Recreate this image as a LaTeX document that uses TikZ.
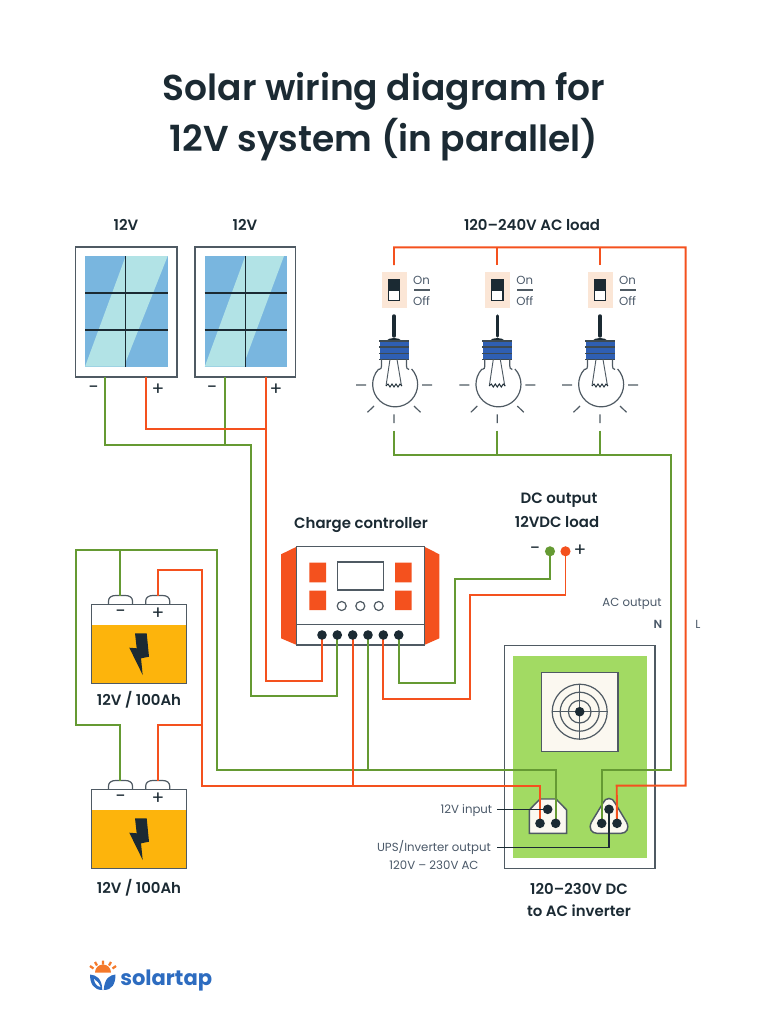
\documentclass[tikz,border=0pt]{standalone}
\usepackage{fontspec}
\setmainfont{Poppins}
\newfontfamily\semi{Poppins SemiBold}
\definecolor{wred}{HTML}{F4511E}
\definecolor{wgreen}{HTML}{659A33}
\definecolor{ink}{HTML}{1B2A33}
\definecolor{edge}{HTML}{4F5A63}
\definecolor{soft}{HTML}{4A5868}
\definecolor{pdark}{HTML}{79B6DF}
\definecolor{plight}{HTML}{B2E3E6}
\definecolor{amber}{HTML}{FDB40C}
\definecolor{capblue}{HTML}{2F5FB3}
\definecolor{peach}{HTML}{FBE6D6}
\definecolor{invgreen}{HTML}{A2DA63}
\definecolor{cream}{HTML}{FBF8F0}
\definecolor{logoblue}{HTML}{2D6CC0}
\definecolor{logoorange}{HTML}{F4792B}
\pgfdeclarelayer{shapes}
\pgfdeclarelayer{wires}
\pgfsetlayers{shapes,wires,main}
\tikzset{
  x=0.75pt,y=-0.75pt,
  px/.style n args={2}{minimum width=#1*0.75pt,minimum height=#2*0.75pt,inner sep=0pt,outer sep=0pt},
  frame/.style={draw=edge,line width=1.1pt,fill=white,rectangle},
  rw/.style={draw=wred,line width=1.45pt,line join=miter},
  gw/.style={draw=wgreen,line width=1.45pt,line join=miter},
  pin/.style={circle,fill=ink,draw=none,minimum size=7.2pt,inner sep=0pt,outer sep=0pt},
  head/.style={font=\fontsize{11.2pt}{14pt}\semi,text=ink,inner sep=0pt,align=center},
  small/.style={font=\fontsize{8.8pt}{11pt}\selectfont,text=soft,inner sep=0pt,align=center},
  sign/.style={font=\fontsize{14pt}{14pt}\selectfont,text=ink,inner sep=0pt},
  lamp/.pic={
    \fill[peach] (-12.5,272.3) rectangle (12.5,308);
    \draw[ink,line width=.9pt,fill=white] (-5.7,279.5) rectangle (5.7,300.7);
    \fill[ink] (-5.7,279.5) rectangle (5.7,290.7);
    \draw[edge,line width=.9pt] (20,290) -- (36,290);
    \node[small] (-on) at (27.5,280) {On};
    \node[small] (-off) at (27.5,301) {Off};
    \draw[ink,line width=2.6pt,line cap=round] (0,316) -- (0,336);
    \fill[ink] (-8,341) .. controls (-5,337) and (5,337) .. (8,341) -- cycle;
    \fill[capblue] (-14.5,341) rectangle (14.5,359.3);
    \foreach \yy in {341,347,353.5,359.3}{\draw[ink!85,line width=.9pt] (-15,\yy) -- (15,\yy);}
    \draw[edge,line width=.9pt] (-12.5,359.3) -- (-12.5,366) .. controls (-12.5,368) and (-13,369) .. (-15,369.5);
    \draw[edge,line width=.9pt] (12.5,359.3) -- (12.5,366) .. controls (12.5,368) and (13,369) .. (15,369.5);
    \draw[edge,line width=.9pt] (-15.3,369) arc[start angle=-137,end angle=-403,radius=22.5] ;
    \draw[edge,line width=.7pt] (-4,359.3) -- (-8,386);
    \draw[edge,line width=.7pt] (3,359.3) -- (7.5,386);
    \draw[ink,line width=.7pt] (-8,386) -- (-6,384) -- (-4,387) -- (-2,384) -- (0,387) -- (2,384) -- (4,387) -- (6,384) -- (8,386);
    \draw[edge,line width=.9pt] (-38,385) -- (-28,385) (28,385) -- (38,385) (-26.5,412.3) -- (-20,406) (20,406) -- (26.5,412.3) (0,414.3) -- (0,423);
  },
  cell/.pic={
    \foreach \tx in {120.5,157.7}{
      \draw[edge,line width=.9pt,fill=white] (\tx-12,604.3) -- (\tx-12,601) .. controls (\tx-12,597.5) and (\tx-9,595.5) .. (\tx-5,595.5) -- (\tx+5,595.5) .. controls (\tx+9,595.5) and (\tx+12,597.5) .. (\tx+12,601) -- (\tx+12,604.3);
    }
    \fill[amber] (91.7,625) rectangle (186.7,683.3);
    \draw[edge,line width=1.1pt] (91.7,604.3) rectangle (186.7,683.3);
    \fill[ink] (135,633.3) -- (146.7,633.3) -- (149,656.7) -- (141,658.3) -- (142.7,675) -- (129.3,647.7) -- (136.7,648.3) -- cycle;
    \node[sign] (-neg) at (120.5,614) {−};
    \node[sign] (-pos) at (158,614) {+};
  },
}
\begin{document}
\begin{tikzpicture}
\useasboundingbox (0,0) rectangle (768,1024);
% title
\node[font=\fontsize{27pt}{34pt}\semi,text=ink,inner sep=0pt] (t1) at (384,91) {Solar wiring diagram for};
\node[font=\fontsize{27pt}{34pt}\semi,text=ink,inner sep=0pt] (t2) at (384,140) {12V system (in parallel)};

\begin{pgfonlayer}{shapes}
% panels
\node[frame,px={101.5}{130}] (panelA) at (126.2,312) {};
\node[frame,px={100.7}{130}] (panelB) at (245.3,312) {};
\fill[pdark] (85,256) rectangle (167.7,366.7);
\fill[plight] (85,366.7) -- (125.7,256) -- (167.7,256) -- (125.7,362) -- (125.7,366.7) -- cycle;
\fill[pdark] (204.7,256) rectangle (287,366.7);
\fill[plight] (204.7,366.7) -- (245.3,256) -- (284,256) -- (245.3,360) -- (245.3,366.7) -- cycle;
\draw[ink,line width=.9pt] (85,293) -- (167.7,293) (85,330) -- (167.7,330) (125.7,256) -- (125.7,366.7);
\draw[ink,line width=.9pt] (204.7,293) -- (287,293) (204.7,330) -- (287,330) (245.3,256) -- (245.3,366.7);
% lamps
\pic (lampA) at (394,0) {lamp};
\pic (lampB) at (497.3,0) {lamp};
\pic (lampC) at (600,0) {lamp};
% batteries
\pic (batA) at (0,0) {cell};
\pic (batB) at (0,185) {cell};
% controller
\fill[wred] (296.7,546.7) -- (281,554.3) -- (281,638.3) -- (296.7,645) -- cycle;
\fill[wred] (424.3,546.7) -- (439.3,554.3) -- (439.3,638.3) -- (424.3,645) -- cycle;
\node[frame,px={127.6}{98.3}] (ctrl) at (360.5,595.85) {};
\draw[edge,line width=1.1pt] (296.7,624.3) -- (424.3,624.3);
\fill[wred] (309.3,562.7) rectangle (326,582.3) (309.3,590.7) rectangle (326,610) (395,562.7) rectangle (411.7,582.3) (395,590.7) rectangle (411.7,610);
\draw[edge,line width=1.1pt] (337.7,562) rectangle (383.3,590);
\foreach \bx in {341.7,360.3,378.7}{\draw[edge,line width=.9pt] (\bx,606) circle[radius=4.5];}
% inverter
\node[frame,px={150.3}{222.6}] (inv) at (579.85,757) {};
\fill[invgreen] (513,655.7) rectangle (646.7,858.3);
\draw[edge,line width=1.1pt,fill=cream] (541.7,672.7) rectangle (618,751.3);
\foreach \rr in {27.5,19.5,11.3}{\draw[edge,line width=.9pt] (579.7,711.7) circle[radius=\rr];}
\draw[edge,line width=.9pt] (551.7,711.7) -- (607.7,711.7) (579.7,683.7) -- (579.7,739.7);
\draw[edge,line width=1.1pt,fill=cream] (529.3,810) -- (540,799) -- (556,799) -- (566.7,810) -- (566.7,833.3) -- (529.3,833.3) -- cycle;
\draw[edge,line width=1.1pt,fill=cream] (603,803) .. controls (605,797) and (613,797) .. (615,803) -- (626.5,822) .. controls (630,829) and (626,833.3) .. (621,833.3) -- (597,833.3) .. controls (592,833.3) and (588,829) .. (591.5,822) -- cycle;
\end{pgfonlayer}

% pins and dots
\foreach \n/\px in {1/322,2/337.3,3/352.7,4/368,5/383.3,6/398.7}{\node[pin] (c\n) at (\px,635) {};}
\node[pin] (tg) at (579.7,711.7) {};
\node[pin] (sa) at (547.7,809.3) {};
\node[pin] (sb) at (540,823.3) {};
\node[pin] (sc) at (555.7,823.3) {};
\node[pin] (ta) at (609,809.3) {};
\node[pin] (tb) at (601.7,823.3) {};
\node[pin] (tc) at (617,823.3) {};
\node[circle,fill=wgreen,minimum size=7.6pt,inner sep=0pt] (dcg) at (550,551.3) {};
\node[circle,fill=wred,minimum size=7.6pt,inner sep=0pt] (dcr) at (565.5,551.3) {};

% connector ends
\coordinate (pAm) at (105,377);
\coordinate (pAp) at (146,377);
\coordinate (pBm) at (224.7,377);
\coordinate (pBp) at (266,377);
\coordinate (rAt) at (394,265);
\coordinate (rBt) at (497.3,265);
\coordinate (rCt) at (600,265);
\coordinate (gAb) at (394,430.7);
\coordinate (gBb) at (497.3,430.7);
\coordinate (gCb) at (600,430.7);
\coordinate (jP) at (224.7,445);
\coordinate (jQ) at (266,429.3);
\coordinate (jL) at (497.3,247.3);
\coordinate (jM) at (600,247.3);
\coordinate (jG) at (497.3,455);
\coordinate (jH) at (600,455);
\coordinate (bAm) at (120,595.5);
\coordinate (bAp) at (157.7,595.5);
\coordinate (bBm) at (120,780.5);
\coordinate (bBp) at (157.7,780.5);
\coordinate (jR) at (201.7,724.7);
\coordinate (jS) at (120,550);
\coordinate (jT) at (368,769.7);
\coordinate (jU) at (352.7,785.7);
\coordinate (lblA) at (497.3,809.3);
\coordinate (lblB) at (497.3,847.3);

\begin{pgfonlayer}{wires}
% panels to controller
\draw[gw] (pAm) |- (jP) -- (250.7,445) -- (250.7,695.7) -- (337.3,695.7) -- (c2.center);
\draw[gw] (pBm) -- (jP);
\draw[rw] (pAp) |- (jQ);
\draw[rw] (pBp) -- (266,680.7) -- (322,680.7) -- (c1.center);
% AC load
\draw[rw] (rAt) |- (685.7,247.3) |- (616.7,785.7) -- (tc.center);
\draw[rw] (rBt) -- (jL);
\draw[rw] (rCt) -- (jM);
\draw[gw] (gAb) |- (670.7,455) |- (601.7,770) -- (tb.center);
\draw[gw] (gBb) -- (jG);
\draw[gw] (gCb) -- (jH);
% DC load
\draw[gw] (dcg.center) |- (455.3,579.3) |- (398.7,683.3) -- (c6.center);
\draw[rw] (dcr.center) |- (470,595.3) |- (383.3,699.3) -- (c5.center);
% batteries
\draw[gw] (bAm) -- (jS);
\draw[gw] (jS) -- (76,550) -- (76,724.7) -| (bBm);
\draw[gw] (jS) -- (217,550) |- (555.7,769.7) -- (sc.center);
\draw[gw] (c4.center) -- (jT);
\draw[rw] (bAp) |- (201.7,570) |- (540,785.7) -- (sb.center);
\draw[rw] (bBp) |- (jR);
\draw[rw] (c3.center) -- (jU);
% labels to sockets
\draw[ink,line width=.9pt] (lblA) -- (sa.center);
\draw[ink,line width=.9pt] (lblB) -| (ta.center);
\end{pgfonlayer}

% labels
\node[head] (lA) at (126,225) {12V};
\node[head] (lB) at (245,225) {12V};
\node[head] (lC) at (532,225) {120–240V AC load};
\node[head] (lD) at (361,525) {Charge controller};
\node[head] (lE) at (559,500) {DC output};
\node[head] (lF) at (557,522) {12VDC load};
\node[head] (lG) at (139,700) {12V / 100Ah};
\node[head] (lH) at (139,888) {12V / 100Ah};
\node[head] (lI) at (579,889) {120–230V DC};
\node[head] (lJ) at (579,911) {to AC inverter};
\node[sign] (mA) at (93.5,390) {−};
\node[sign] (mB) at (158,390) {+};
\node[sign] (mC) at (212,390) {−};
\node[sign] (mD) at (276,390) {+};
\node[sign] (mE) at (535,551) {−};
\node[sign] (mF) at (580,551) {+};
\node[small] (lK) at (632,603.5) {AC output};
\node[small,font=\fontsize{8.8pt}{11pt}\semi] (lN) at (658,624) {N};
\node[small] (lL) at (698,624) {L};
\node[small,anchor=east] (lM) at (492.5,811) {12V input};
\node[small] (lO) at (434,847) {UPS/Inverter output};
\node[small] (lP) at (434,865.5) {120V – 230V AC};

% logo
\fill[logoorange] (95,972.5) arc[start angle=180,end angle=360,radius=8] -- cycle;
\draw[logoorange,line width=1.7pt] (90,966) -- (93.5,968.5) (95,962) -- (97,965.5) (103,960.5) -- (103,964.5) (111,962) -- (109,965.5) (116,966) -- (112.5,968.5);
\fill[logoblue] (90,974.5) .. controls (96,975) and (102,978) .. (102.3,990) .. controls (94,990) and (90,984) .. (90,974.5) -- cycle;
\fill[logoblue] (115.5,974.5) .. controls (110,975) and (104.5,978) .. (103.7,990) .. controls (112,990) and (115.5,984) .. (115.5,974.5) -- cycle;
\fill[white] (94,979) .. controls (97,981) and (99,983) .. (100.5,987) .. controls (96.5,986) and (94.5,983) .. (94,979) -- cycle;
\node[font=\fontsize{15.8pt}{20pt}\selectfont\bfseries,text=logoblue,inner sep=0pt,anchor=west] (logo) at (120,980) {solartap};
\end{tikzpicture}
\end{document}
